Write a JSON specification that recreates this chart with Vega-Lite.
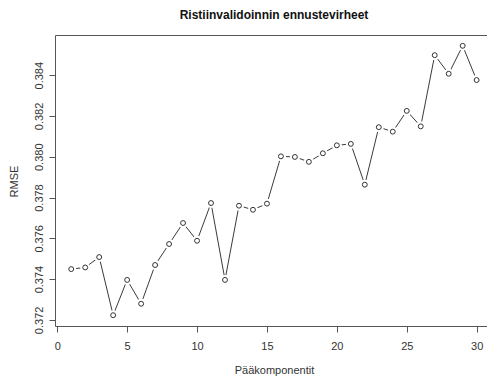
{
  "$schema": "https://vega.github.io/schema/vega-lite/v6.json",
  "autosize": "none",
  "width": 432,
  "height": 291,
  "padding": {"left": 55, "top": 35, "right": 0, "bottom": 52},
  "background": "white",
  "config": {
    "view": {"stroke": null},
    "font": "Liberation Sans",
    "axis": {
      "grid": false,
      "domainColor": "#555555",
      "domainWidth": 1,
      "tickColor": "#555555",
      "tickWidth": 1,
      "tickSize": 6,
      "labelFont": "Liberation Sans",
      "labelFontSize": 11,
      "labelColor": "#333333",
      "titleFont": "Liberation Sans",
      "titleFontSize": 11,
      "titleFontWeight": "normal",
      "titleColor": "#333333"
    }
  },
  "title": {
    "text": "Ristiinvalidoinnin ennustevirheet",
    "font": "Liberation Sans",
    "fontSize": 12,
    "fontWeight": "bold",
    "color": "#111111",
    "anchor": "middle",
    "dx": 3,
    "offset": 4,
    "baseline": "alphabetic"
  },
  "data": {
    "values": [
      {"k": 1, "rmse": 0.37449},
      {"k": 2, "rmse": 0.37457},
      {"k": 3, "rmse": 0.37508},
      {"k": 4, "rmse": 0.37223},
      {"k": 5, "rmse": 0.37396},
      {"k": 6, "rmse": 0.37279},
      {"k": 7, "rmse": 0.37469},
      {"k": 8, "rmse": 0.37572},
      {"k": 9, "rmse": 0.37675},
      {"k": 10, "rmse": 0.37588},
      {"k": 11, "rmse": 0.37773},
      {"k": 12, "rmse": 0.37396},
      {"k": 13, "rmse": 0.3776},
      {"k": 14, "rmse": 0.3774},
      {"k": 15, "rmse": 0.3777},
      {"k": 16, "rmse": 0.38002},
      {"k": 17, "rmse": 0.37999},
      {"k": 18, "rmse": 0.37975},
      {"k": 19, "rmse": 0.38017},
      {"k": 20, "rmse": 0.38056},
      {"k": 21, "rmse": 0.38063},
      {"k": 22, "rmse": 0.37863},
      {"k": 23, "rmse": 0.38145},
      {"k": 24, "rmse": 0.38123},
      {"k": 25, "rmse": 0.38225},
      {"k": 26, "rmse": 0.38149},
      {"k": 27, "rmse": 0.38498},
      {"k": 28, "rmse": 0.38407},
      {"k": 29, "rmse": 0.38544},
      {"k": 30, "rmse": 0.38376}
    ]
  },
  "layer": [
    {
      "mark": {"type": "line", "color": "#3a3a3a", "strokeWidth": 1},
      "encoding": {
        "x": {
          "field": "k",
          "type": "quantitative",
          "scale": {"domain": [-0.16, 30.74], "nice": false, "zero": false},
          "axis": {
            "orient": "bottom",
            "values": [0, 5, 10, 15, 20, 25, 30],
            "labelPadding": 8,
            "labelBaseline": "top",
            "title": "Pääkomponentit",
            "titleX": 219,
            "titleY": 47,
            "titleAlign": "center",
            "titleBaseline": "alphabetic"
          }
        },
        "y": {
          "field": "rmse",
          "type": "quantitative",
          "scale": {"domain": [0.3717, 0.38597], "nice": false, "zero": false},
          "axis": {
            "orient": "left",
            "values": [0.372, 0.374, 0.376, 0.378, 0.38, 0.382, 0.384],
            "format": ".3f",
            "labelAngle": 270,
            "labelAlign": "center",
            "labelBaseline": "alphabetic",
            "labelPadding": 7,
            "title": "RMSE",
            "titleAngle": 270,
            "titleX": -37.7,
            "titleY": 146,
            "titleAlign": "center",
            "titleBaseline": "alphabetic"
          }
        }
      }
    },
    {
      "mark": {"type": "point", "shape": "circle", "filled": true, "color": "white", "size": 100, "opacity": 1},
      "encoding": {
        "x": {
          "field": "k",
          "type": "quantitative",
          "axis": {"orient": "top", "labels": false, "ticks": false, "domain": true, "title": null, "minExtent": 0, "maxExtent": 0}
        },
        "y": {"field": "rmse", "type": "quantitative"}
      }
    },
    {
      "mark": {"type": "point", "shape": "circle", "filled": false, "color": "#333333", "strokeWidth": 1, "size": 24, "opacity": 1},
      "encoding": {
        "x": {"field": "k", "type": "quantitative", "axis": null},
        "y": {"field": "rmse", "type": "quantitative"}
      }
    }
  ],
  "resolve": {"axis": {"x": "independent"}}
}
